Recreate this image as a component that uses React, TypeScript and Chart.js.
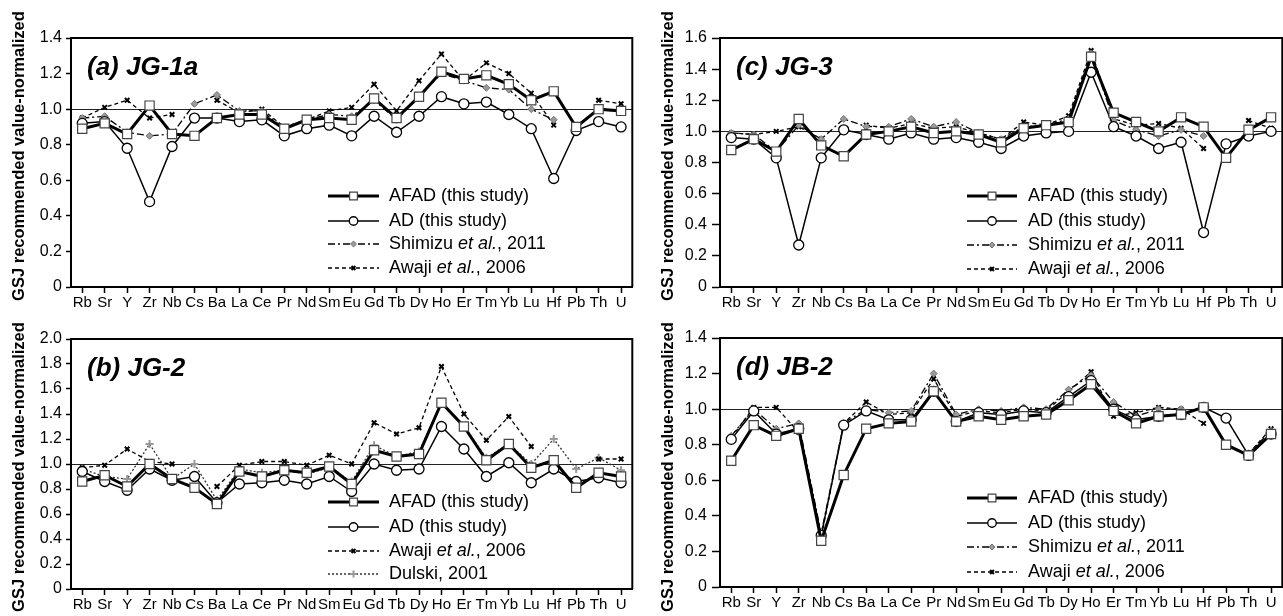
import React, { useEffect, useRef } from 'react';
import { Chart, registerables } from 'chart.js';
import { drawPoint } from 'chart.js/helpers';

Chart.register(...registerables);

const FONT = '"Liberation Sans", Arial, Helvetica, sans-serif';

const elements = ['Rb', 'Sr', 'Y', 'Zr', 'Nb', 'Cs', 'Ba', 'La', 'Ce', 'Pr', 'Nd', 'Sm', 'Eu', 'Gd', 'Tb', 'Dy', 'Ho', 'Er', 'Tm', 'Yb', 'Lu', 'Hf', 'Pb', 'Th', 'U'];

// (a) JG-1a
const jg1aAFAD = [0.89, 0.92, 0.86, 1.02, 0.86, 0.85, 0.95, 0.97, 0.97, 0.89, 0.94, 0.95, 0.94, 1.06, 0.95, 1.07, 1.21, 1.17, 1.19, 1.14, 1.05, 1.10, 0.90, 1.00, 0.99];
const jg1aAD = [0.92, 0.93, 0.78, 0.48, 0.79, 0.95, 0.95, 0.93, 0.94, 0.85, 0.89, 0.91, 0.85, 0.96, 0.87, 0.96, 1.07, 1.03, 1.04, 0.97, 0.89, 0.61, 0.88, 0.93, 0.90];
const jg1aShimizu = [0.95, 0.96, 0.87, 0.85, 0.86, 1.03, 1.08, 0.99, 0.99, 0.89, 0.94, 0.97, 0.96, 1.05, 0.94, 1.07, 1.20, 1.16, 1.12, 1.11, 1.00, 0.94, null, null, null];
const jg1aAwaji = [0.95, 1.01, 1.05, 0.95, 0.97, null, 1.05, 0.98, 1.00, 0.90, 0.94, 0.99, 1.01, 1.14, 0.99, 1.16, 1.31, 1.16, 1.26, 1.20, 1.09, 0.91, null, 1.05, 1.03];

// (b) JG-2
const jg2AFAD = [0.86, 0.91, 0.82, 1.00, 0.88, 0.81, 0.68, 0.94, 0.90, 0.95, 0.93, 0.98, 0.84, 1.11, 1.06, 1.08, 1.49, 1.30, 1.03, 1.16, 0.97, 1.03, 0.81, 0.93, 0.90];
const jg2AD = [0.94, 0.86, 0.79, 0.96, 0.87, 0.90, 0.69, 0.84, 0.85, 0.87, 0.84, 0.90, 0.78, 1.00, 0.95, 0.96, 1.30, 1.12, 0.90, 1.01, 0.85, 0.96, 0.86, 0.89, 0.85];
const jg2Awaji = [0.97, 0.99, 1.12, 1.02, 1.00, null, 0.82, 0.99, 1.02, 1.02, 0.99, 1.07, 1.00, 1.33, 1.24, 1.29, 1.78, 1.40, 1.19, 1.38, 1.14, null, null, 1.04, 1.04];
const jg2Dulski = [0.96, 0.90, 0.88, 1.16, 0.88, 1.00, 0.71, 0.96, 0.93, 0.95, 0.92, 0.97, 0.86, 1.15, 1.06, 1.10, 1.49, 1.30, 1.05, 1.16, 1.00, 1.20, 0.96, 1.05, 0.95];

// (c) JG-3
const jg3AFAD = [0.88, 0.95, 0.87, 1.08, 0.91, 0.84, 0.98, 1.00, 1.03, 0.99, 1.00, 0.98, 0.93, 1.02, 1.04, 1.06, 1.48, 1.12, 1.06, 1.00, 1.09, 1.03, 0.83, 1.01, 1.09];
const jg3AD = [0.96, 0.95, 0.83, 0.27, 0.83, 1.01, 0.98, 0.95, 0.99, 0.95, 0.96, 0.93, 0.89, 0.97, 0.99, 1.00, 1.38, 1.03, 0.97, 0.89, 0.93, 0.35, 0.92, 0.97, 1.00];
const jg3Shimizu = [0.99, 0.98, 0.87, 1.04, 0.95, 1.08, 1.03, 1.03, 1.08, 1.03, 1.06, 0.99, 0.95, 1.03, 1.04, 1.08, 1.50, 1.07, 1.01, 0.97, 1.01, 0.97, null, null, null];
const jg3Awaji = [0.99, 0.98, 1.00, 1.03, 0.95, null, 1.04, 1.02, 1.05, 1.02, 1.03, 0.99, 0.95, 1.06, 1.04, 1.10, 1.52, 1.08, 1.04, 1.05, 1.02, 0.89, null, 1.07, 1.02];

// (d) JB-2
const jb2AFAD = [0.71, 0.91, 0.85, 0.89, 0.26, 0.63, 0.89, 0.92, 0.93, 1.10, 0.93, 0.96, 0.94, 0.96, 0.97, 1.05, 1.14, 0.99, 0.92, 0.96, 0.97, 1.01, 0.80, 0.74, 0.86];
const jb2AD = [0.83, 0.99, 0.86, 0.89, 0.29, 0.91, 0.99, 0.94, 0.94, 1.10, 0.93, 0.98, 0.97, 0.99, 0.98, 1.07, 1.16, 1.00, 0.94, 0.96, 0.97, 1.01, 0.95, 0.74, 0.86];
const jb2Shimizu = [0.85, 1.00, 0.89, 0.92, 0.30, 0.92, 1.00, 0.98, 0.99, 1.20, 0.97, 1.00, 0.99, 1.01, 1.00, 1.11, 1.19, 1.04, 0.96, 1.00, 1.00, null, null, 0.75, 0.88];
const jb2Awaji = [0.84, 1.01, 1.01, 0.87, 0.28, 0.92, 1.04, 0.97, 0.98, 1.17, 0.96, 0.99, 0.98, 1.00, 0.99, 1.10, 1.21, 0.96, 0.98, 1.01, 1.00, 0.92, null, 0.75, 0.89];

const yMaxA = 1.4;
const yMaxB = 2.0;
const yMaxC = 1.6;
const yMaxD = 1.4;

const STYLES: Record<string, any> = {
  afad: { borderColor: '#000', borderWidth: 3, borderDash: [], pointStyle: 'rect', pointRadius: 6.5, pointBackgroundColor: '#fff', pointBorderColor: '#444', pointBorderWidth: 1.2 },
  ad: { borderColor: '#000', borderWidth: 1.5, borderDash: [], pointStyle: 'circle', pointRadius: 5, pointBackgroundColor: '#fff', pointBorderColor: '#000', pointBorderWidth: 1.3 },
  shimizu: { borderColor: '#000', borderWidth: 1.3, borderDash: [7, 3, 2, 3], pointStyle: 'rectRot', pointRadius: 3.5, pointBackgroundColor: '#999', pointBorderColor: '#777', pointBorderWidth: 1 },
  awaji: { borderColor: '#000', borderWidth: 1.3, borderDash: [4, 3], pointStyle: 'crossRot', pointRadius: 3.2, pointBackgroundColor: '#000', pointBorderColor: '#000', pointBorderWidth: 2 },
  dulski: { borderColor: '#333', borderWidth: 1.3, borderDash: [2, 2], pointStyle: 'cross', pointRadius: 4, pointBackgroundColor: '#999', pointBorderColor: '#999', pointBorderWidth: 2 },
};

const LABELS: Record<string, { t: string; i?: boolean }[]> = {
  afad: [{ t: 'AFAD (this study)' }],
  ad: [{ t: 'AD (this study)' }],
  shimizu: [{ t: 'Shimizu ' }, { t: 'et al.', i: true }, { t: ', 2011' }],
  awaji: [{ t: 'Awaji ' }, { t: 'et al.', i: true }, { t: ', 2006' }],
  dulski: [{ t: 'Dulski, 2001' }],
};

const PANELS = [
  {
    id: 'a', title: '(a) JG-1a', max: yMaxA,
    series: [['afad', jg1aAFAD], ['ad', jg1aAD], ['shimizu', jg1aShimizu], ['awaji', jg1aAwaji]],
    box: { left: 0, top: 0, width: 640, height: 308 },
    area: { left: 71, top: 38, right: 4.5, xh: 21 },
    yTick: { len: 5, pad: 4 },
    legend: { x0: 257, x1: 308, tx: 318, rows: [-91, -66, -43, -19] },
    yTitle: { x: 24, y: 156 },
  },
  {
    id: 'c', title: '(c) JG-3', max: yMaxC,
    series: [['afad', jg3AFAD], ['ad', jg3AD], ['shimizu', jg3Shimizu], ['awaji', jg3Awaji]],
    box: { left: 640, top: 0, width: 650, height: 308 },
    area: { left: 80, top: 38, right: 5.4, xh: 21 },
    yTick: { len: 8, pad: 5 },
    legend: { x0: 247, x1: 297, tx: 308, rows: [-91, -66, -42, -18] },
    yTitle: { x: 33, y: 156 },
  },
  {
    id: 'b', title: '(b) JG-2', max: yMaxB,
    series: [['afad', jg2AFAD], ['ad', jg2AD], ['awaji', jg2Awaji], ['dulski', jg2Dulski]],
    box: { left: 0, top: 308, width: 640, height: 308 },
    area: { left: 71, top: 31, right: 4.5, xh: 27 },
    yTick: { len: 5, pad: 4 },
    legend: { x0: 257, x1: 308, tx: 318, rows: [-87, -62, -38, -15] },
    yTitle: { x: 24, y: 159 },
  },
  {
    id: 'd', title: '(d) JB-2', max: yMaxD,
    series: [['afad', jb2AFAD], ['ad', jb2AD], ['shimizu', jb2Shimizu], ['awaji', jb2Awaji]],
    box: { left: 640, top: 308, width: 650, height: 308 },
    area: { left: 80, top: 30, right: 5.4, xh: 29 },
    yTick: { len: 8, pad: 5 },
    legend: { x0: 247, x1: 297, tx: 308, rows: [-89, -64, -40, -15] },
    yTitle: { x: 33, y: 159 },
  },
];

function makePlugin(p: any) {
  return {
    id: 'panelDecor' + p.id,
    afterDraw(chart: any) {
      const ctx = chart.ctx as CanvasRenderingContext2D;
      const a = chart.chartArea;
      ctx.save();
      // frame (top and right)
      ctx.strokeStyle = '#000';
      ctx.lineWidth = 2;
      ctx.beginPath();
      ctx.moveTo(a.left, a.top);
      ctx.lineTo(a.right, a.top);
      ctx.lineTo(a.right, a.bottom);
      ctx.stroke();

      // panel title
      ctx.fillStyle = '#000';
      ctx.font = `italic bold 26px ${FONT}`;
      ctx.textBaseline = 'alphabetic';
      ctx.textAlign = 'left';
      ctx.fillText(p.title, a.left + 16, a.top + 37);

      // y title
      ctx.save();
      ctx.translate(p.yTitle.x, p.yTitle.y);
      ctx.rotate(-Math.PI / 2);
      ctx.font = `bold 16.5px ${FONT}`;
      ctx.textAlign = 'center';
      ctx.textBaseline = 'alphabetic';
      ctx.fillText('GSJ recommended value-normalized', 0, 0);
      ctx.restore();

      // legend
      p.series.forEach((s: any, i: number) => {
        const key = s[0];
        const st = STYLES[key];
        const y = a.bottom + p.legend.rows[i];
        const x0 = a.left + p.legend.x0;
        const x1 = a.left + p.legend.x1;
        ctx.save();
        ctx.beginPath();
        ctx.setLineDash(st.borderDash);
        ctx.lineWidth = st.borderWidth;
        ctx.strokeStyle = st.borderColor;
        ctx.moveTo(x0, y);
        ctx.lineTo(x1, y);
        ctx.stroke();
        ctx.setLineDash([]);
        ctx.fillStyle = st.pointBackgroundColor;
        ctx.strokeStyle = st.pointBorderColor;
        ctx.lineWidth = st.pointBorderWidth;
        drawPoint(ctx, { pointStyle: st.pointStyle, radius: st.pointRadius * 0.85, rotation: 0, borderWidth: st.pointBorderWidth } as any, (x0 + x1) / 2, y);
        ctx.restore();

        let tx = a.left + p.legend.tx;
        ctx.fillStyle = '#000';
        ctx.textBaseline = 'middle';
        ctx.textAlign = 'left';
        LABELS[key].forEach((part) => {
          ctx.font = `${part.i ? 'italic ' : ''}18px ${FONT}`;
          ctx.fillText(part.t, tx, y);
          tx += ctx.measureText(part.t).width;
        });
      });
      ctx.restore();
    },
  };
}

function Panel({ p }: { p: any }) {
  const ref = useRef<HTMLCanvasElement | null>(null);
  useEffect(() => {
    if (!ref.current) return;
    const datasets = p.series.map((s: any) => {
      const st = STYLES[s[0]];
      return {
        label: s[0],
        data: s[1],
        borderColor: st.borderColor,
        borderWidth: st.borderWidth,
        borderDash: st.borderDash,
        pointStyle: st.pointStyle,
        pointRadius: st.pointRadius,
        pointHoverRadius: st.pointRadius,
        pointBackgroundColor: st.pointBackgroundColor,
        pointBorderColor: st.pointBorderColor,
        pointBorderWidth: st.pointBorderWidth,
        fill: false,
        tension: 0,
        spanGaps: false,
      };
    });
    const chart = new Chart(ref.current, {
      type: 'line',
      data: { labels: elements, datasets },
      options: {
        responsive: false,
        animation: false,
        events: [],
        layout: { padding: { left: 0, top: p.area.top, right: p.area.right, bottom: 0 } },
        plugins: { legend: { display: false }, tooltip: { enabled: false }, title: { display: false } },
        scales: {
          x: {
            type: 'category',
            offset: true,
            grid: { drawOnChartArea: false, drawTicks: true, tickLength: 6, tickColor: '#000', tickWidth: 1.5 },
            border: { display: true, color: '#000', width: 2 },
            ticks: { autoSkip: false, maxRotation: 0, minRotation: 0, padding: 1, color: '#000', font: { family: FONT, size: 15 } },
            afterFit: (s: any) => { s.height = p.area.xh; },
          },
          y: {
            min: 0,
            max: p.max,
            ticks: {
              stepSize: 0.2,
              padding: p.yTick.pad,
              color: '#000',
              font: { family: FONT, size: 16 },
              callback: (v: any) => (Math.abs(v) < 1e-9 ? '0' : Number(v).toFixed(1)),
            },
            grid: {
              color: (c: any) => (c.tick && Math.abs(c.tick.value - 1) < 1e-6 ? '#222' : 'rgba(0,0,0,0)'),
              lineWidth: 1,
              tickLength: p.yTick.len,
              tickColor: '#000',
              tickWidth: 1.5,
            },
            border: { display: true, color: '#000', width: 2 },
            afterFit: (s: any) => { s.width = p.area.left; },
          },
        },
      } as any,
      plugins: [makePlugin(p)],
    });
    return () => chart.destroy();
  }, []);
  return (
    <canvas
      ref={ref}
      width={p.box.width}
      height={p.box.height}
      style={{ position: 'absolute', left: p.box.left, top: p.box.top, width: p.box.width, height: p.box.height }}
    />
  );
}

export default function App() {
  return (
    <div style={{ position: 'absolute', left: 0, top: 0, width: 1283, height: 616, overflow: 'hidden', background: '#fff' }}>
      {PANELS.map((p) => (
        <Panel key={p.id} p={p} />
      ))}
    </div>
  );
}
